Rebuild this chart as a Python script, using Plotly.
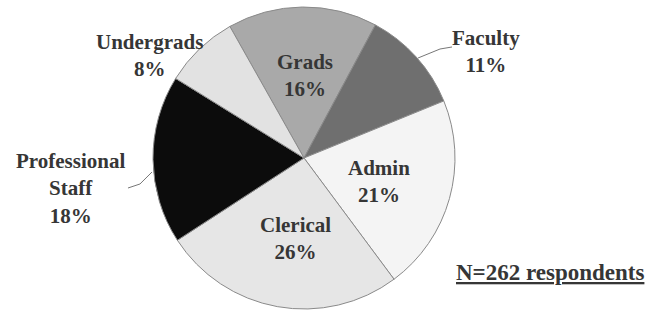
import plotly.graph_objects as go

labels = ["Grads", "Faculty", "Admin", "Clerical", "Professional<br>Staff", "Undergrads"]
values = [16, 11, 21, 26, 18, 8]
colors = ["#a9a9a9", "#6f6f6f", "#f4f4f4", "#e6e6e6", "#0c0c0c", "#e2e2e2"]
note = "N=262 respondents"

W, H = 655, 310
cx, cy, r = 304, 158, 151

fig = go.Figure(go.Pie(
    labels=labels, values=values, sort=False, direction="clockwise",
    rotation=-29.4, marker=dict(colors=colors, line=dict(color="#8a8a8a", width=1)),
    textinfo="none", hoverinfo="label+percent", showlegend=False,
    domain=dict(x=[(cx - r) / W, (cx + r) / W], y=[(H - cy - r) / H, (H - cy + r) / H]),
))

font = dict(family="Liberation Serif, Times New Roman, serif", size=21, color="#363636")
# label block positions (pixel centres)
pos = [(305, 75), (486, 51), (379, 182), (295, 238), (70, 188), (149, 55)]
total = sum(values)
anns = []
for lab, v, (px, py) in zip(labels, values, pos):
    anns.append(dict(x=px / W, y=1 - py / H, xref="paper", yref="paper",
                     text=f"<b>{lab}<br>{round(100 * v / total)}%</b>", showarrow=False,
                     xanchor="center", yanchor="middle", font=font, align="center"))
anns.append(dict(x=550 / W, y=1 - 272 / H, xref="paper", yref="paper",
                 text=f"<b><u>{note}</u></b>", showarrow=False, xanchor="center",
                 yanchor="middle", font=dict(family=font["family"], size=23, color="#363636")))

def P(x, y):
    return f"{x / W:.4f} {1 - y / H:.4f}"

shapes = [
    dict(type="path", xref="paper", yref="paper",
         path=f"M {P(418, 58)} L {P(440, 49)} L {P(452, 47)}",
         line=dict(color="#777777", width=1)),
    dict(type="path", xref="paper", yref="paper",
         path=f"M {P(128, 188)} L {P(140, 184)} L {P(152, 172)}",
         line=dict(color="#777777", width=1)),
]

fig.update_layout(width=W, height=H, margin=dict(l=0, r=0, t=0, b=0),
                  paper_bgcolor="white", plot_bgcolor="white",
                  annotations=anns, shapes=shapes)
fig.write_html("out.html", config={"displayModeBar": False},
               post_script="document.body.style.margin='0';")
